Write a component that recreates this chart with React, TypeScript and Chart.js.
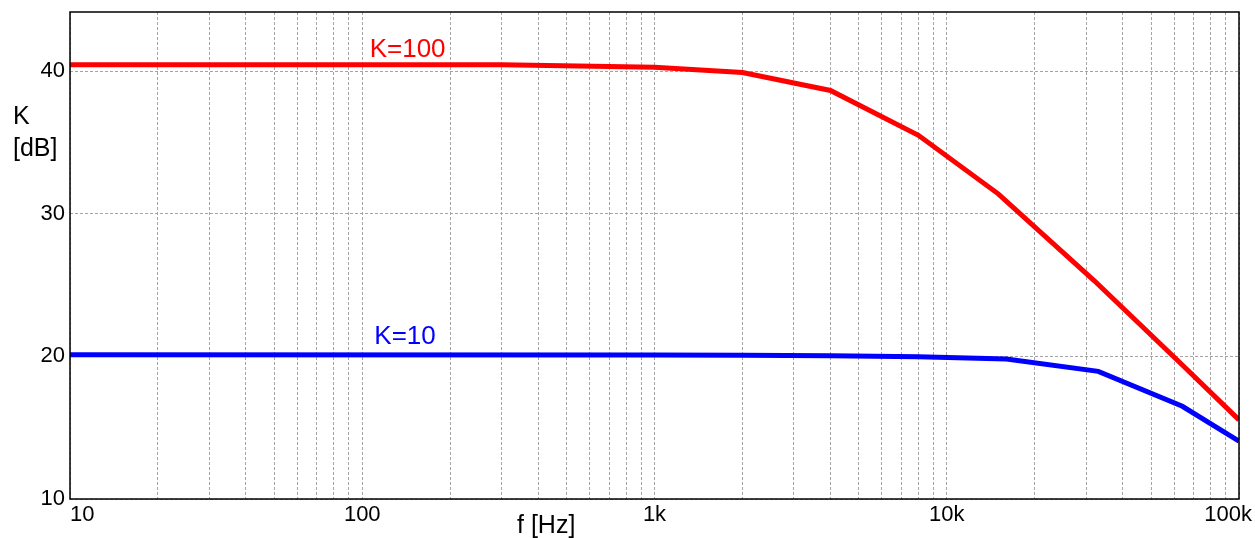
import React, { useEffect, useRef } from "react";
import { Chart, registerables } from "chart.js";

Chart.register(...registerables);

// ---- data ----
const redFreq = [10, 300, 1000, 2000, 4000, 8000, 15000, 32000, 64000, 100000];
const redGain = [40.45, 40.45, 40.28, 39.9, 38.65, 35.5, 31.4, 25.3, 19.4, 15.55];
const blueFreq = [10, 1000, 2000, 4000, 8000, 16000, 33000, 64000, 100000];
const blueGain = [20.12, 20.1, 20.08, 20.05, 19.98, 19.82, 18.95, 16.5, 14.05];

const seriesNames = ["K=100", "K=10"];
const seriesLabelAt = [
  { f: 106, v: 41.0 },
  { f: 110, v: 20.9 },
];

const xTickValues = [10, 100, 1000, 10000, 100000];
const xTickLabels = ["10", "100", "1k", "10k", "100k"];
const yTickValues = [10, 20, 30, 40];
const xMin = 10;
const xMax = 100000;
const yMin = 10;
const yMax = 44.15;

const FONT = '"Liberation Sans", Arial, sans-serif';

function minorTicks(): number[] {
  const out: number[] = [];
  for (let d = xMin; d < xMax; d *= 10) {
    for (let m = 1; m <= 9; m++) out.push(d * m);
  }
  out.push(xMax);
  return out;
}

const overlayPlugin = {
  id: "overlay",
  afterDraw(chart: any) {
    const { ctx, chartArea, scales } = chart;
    const xs = scales.x;
    const ys = scales.y;
    ctx.save();
    // frame
    ctx.strokeStyle = "#000";
    ctx.lineWidth = 1.5;
    ctx.setLineDash([]);
    ctx.strokeRect(chartArea.left, chartArea.top, chartArea.right - chartArea.left, chartArea.bottom - chartArea.top);

    // x tick labels
    ctx.fillStyle = "#000";
    ctx.font = `22px ${FONT}`;
    ctx.textBaseline = "alphabetic";
    const W = chart.width;
    xTickValues.forEach((v, i) => {
      const px = xs.getPixelForValue(v);
      const label = xTickLabels[i];
      const w = ctx.measureText(label).width;
      let left = px - w / 2;
      if (i === 0) left = px;
      if (left + w > W - 3) left = W - 3 - w;
      ctx.textAlign = "left";
      ctx.fillText(label, left, chartArea.bottom + 22);
    });

    // axis titles
    ctx.font = `25px ${FONT}`;
    ctx.textAlign = "left";
    ctx.fillText("K", 13, 124);
    ctx.fillText("[dB]", 13, 156);
    ctx.fillText("f [Hz]", 517, 533);

    // series labels
    ctx.font = `26px ${FONT}`;
    const colors = ["#ff0000", "#0000ff"];
    seriesNames.forEach((name, i) => {
      ctx.fillStyle = colors[i];
      ctx.fillText(name, xs.getPixelForValue(seriesLabelAt[i].f), ys.getPixelForValue(seriesLabelAt[i].v));
    });
    ctx.restore();
  },
};

export default function App() {
  const ref = useRef<HTMLCanvasElement | null>(null);
  useEffect(() => {
    if (!ref.current) return;
    const chart = new Chart(ref.current, {
      type: "line",
      data: {
        datasets: [
          {
            label: seriesNames[0],
            data: redFreq.map((f, i) => ({ x: f, y: redGain[i] })),
            borderColor: "#ff0000",
            borderWidth: 5,
            pointRadius: 0,
            tension: 0,
          },
          {
            label: seriesNames[1],
            data: blueFreq.map((f, i) => ({ x: f, y: blueGain[i] })),
            borderColor: "#0000ff",
            borderWidth: 5,
            pointRadius: 0,
            tension: 0,
          },
        ],
      },
      options: {
        animation: false,
        responsive: false,
        layout: { padding: { left: 0, top: 12, right: 16, bottom: 0 } },
        plugins: { legend: { display: false }, tooltip: { enabled: false } },
        scales: {
          x: {
            type: "logarithmic",
            min: xMin,
            max: xMax,
            afterBuildTicks: (scale: any) => {
              scale.ticks = minorTicks().map((v) => ({ value: v }));
            },
            afterFit: (scale: any) => {
              scale.height = 39;
              scale.paddingLeft = 0;
              scale.paddingRight = 0;
            },
            ticks: { display: false },
            grid: { color: "#a4a4a4", lineWidth: 1, drawTicks: false },
            border: { display: false, dash: [3, 2] },
          },
          y: {
            type: "linear",
            min: yMin,
            max: yMax,
            afterBuildTicks: (scale: any) => {
              scale.ticks = yTickValues.map((v) => ({ value: v }));
            },
            afterFit: (scale: any) => {
              scale.width = 70;
              scale.paddingTop = 0;
              scale.paddingBottom = 0;
            },
            ticks: {
              color: "#000",
              font: { family: FONT, size: 22 },
              padding: 5,
            },
            grid: { color: "#a4a4a4", lineWidth: 1, drawTicks: false },
            border: { display: false, dash: [3, 2] },
          },
        },
      },
      plugins: [overlayPlugin],
    });
    return () => chart.destroy();
  }, []);
  return (
    <div style={{ position: "absolute", left: 0, top: 0, width: 1255, height: 538, background: "#fff" }}>
      <canvas ref={ref} width={1255} height={538} />
    </div>
  );
}
